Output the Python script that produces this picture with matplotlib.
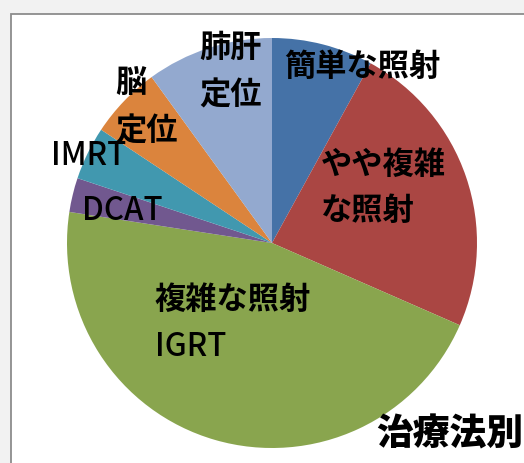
import matplotlib
matplotlib.use("Agg")
import matplotlib.pyplot as plt
from matplotlib.patches import Rectangle

plt.rcParams['font.family'] = ['Noto Sans CJK JP', 'DejaVu Sans']

# ---- data ----
categories = ["簡単な照射", "やや複雑な照射", "複雑な照射IGRT", "DCAT", "IMRT", "脳定位", "肺肝定位"]
values = [8.0, 23.6, 45.9, 2.7, 4.2, 5.7, 10.0]
label_lines = [["簡単な照射"], ["やや複雑", "な照射"], ["複雑な照射", "IGRT"],
               ["DCAT"], ["IMRT"], ["脳", "定位"], ["肺肝", "定位"]]
colors = ["#4572A7", "#AA4643", "#89A54E", "#71588F", "#4198AF", "#DB843D", "#93A9CF"]
title = "治療法別"

W, H = 524, 463
fig = plt.figure(figsize=(W / 100, H / 100), dpi=100)
fig.patch.set_facecolor("#f2f2f2")

# chart frame
fig.patches.append(Rectangle((11 / W, -0.2), 1.3, (H - 14) / H + 0.2,
                             transform=fig.transFigure, facecolor="white",
                             edgecolor="#8c8c8c", linewidth=1.3, zorder=-10))

cx, cy, r = 272, 243, 205
ax = fig.add_axes([(cx - r) / W, (H - cy - r) / H, 2 * r / W, 2 * r / H])
ax.set_zorder(1)
ax.pie(values, colors=colors, startangle=90, counterclock=False, radius=1,
       wedgeprops=dict(linewidth=0))
ax.set_xlim(-1, 1)
ax.set_ylim(-1, 1)
ax.axis("off")

def fx(px):
    return px / W

def fy(py):
    return (H - py) / H

# label layout: (left px, first-line center px, line step px)
layout = [(284, 67, 46), (321, 165, 46), (155, 300, 47), (82, 211, 0),
          (51, 156, 0), (115, 83, 49), (199, 48, 48)]

for lines, (lx, ly, step) in zip(label_lines, layout):
    for i, line in enumerate(lines):
        if line.isascii():
            kw = dict(fontsize=22.5, fontweight="medium")
        else:
            kw = dict(fontsize=22.5, fontweight="bold")
        fig.text(fx(lx), fy(ly + i * step), line, ha="left", va="center",
                 color="black", zorder=5, **kw)

fig.text(fx(376), fy(434), title, ha="left", va="center", fontsize=26.5,
         fontweight="heavy", color="black", zorder=5)

fig.savefig("out.png", dpi=100, facecolor=fig.get_facecolor())
